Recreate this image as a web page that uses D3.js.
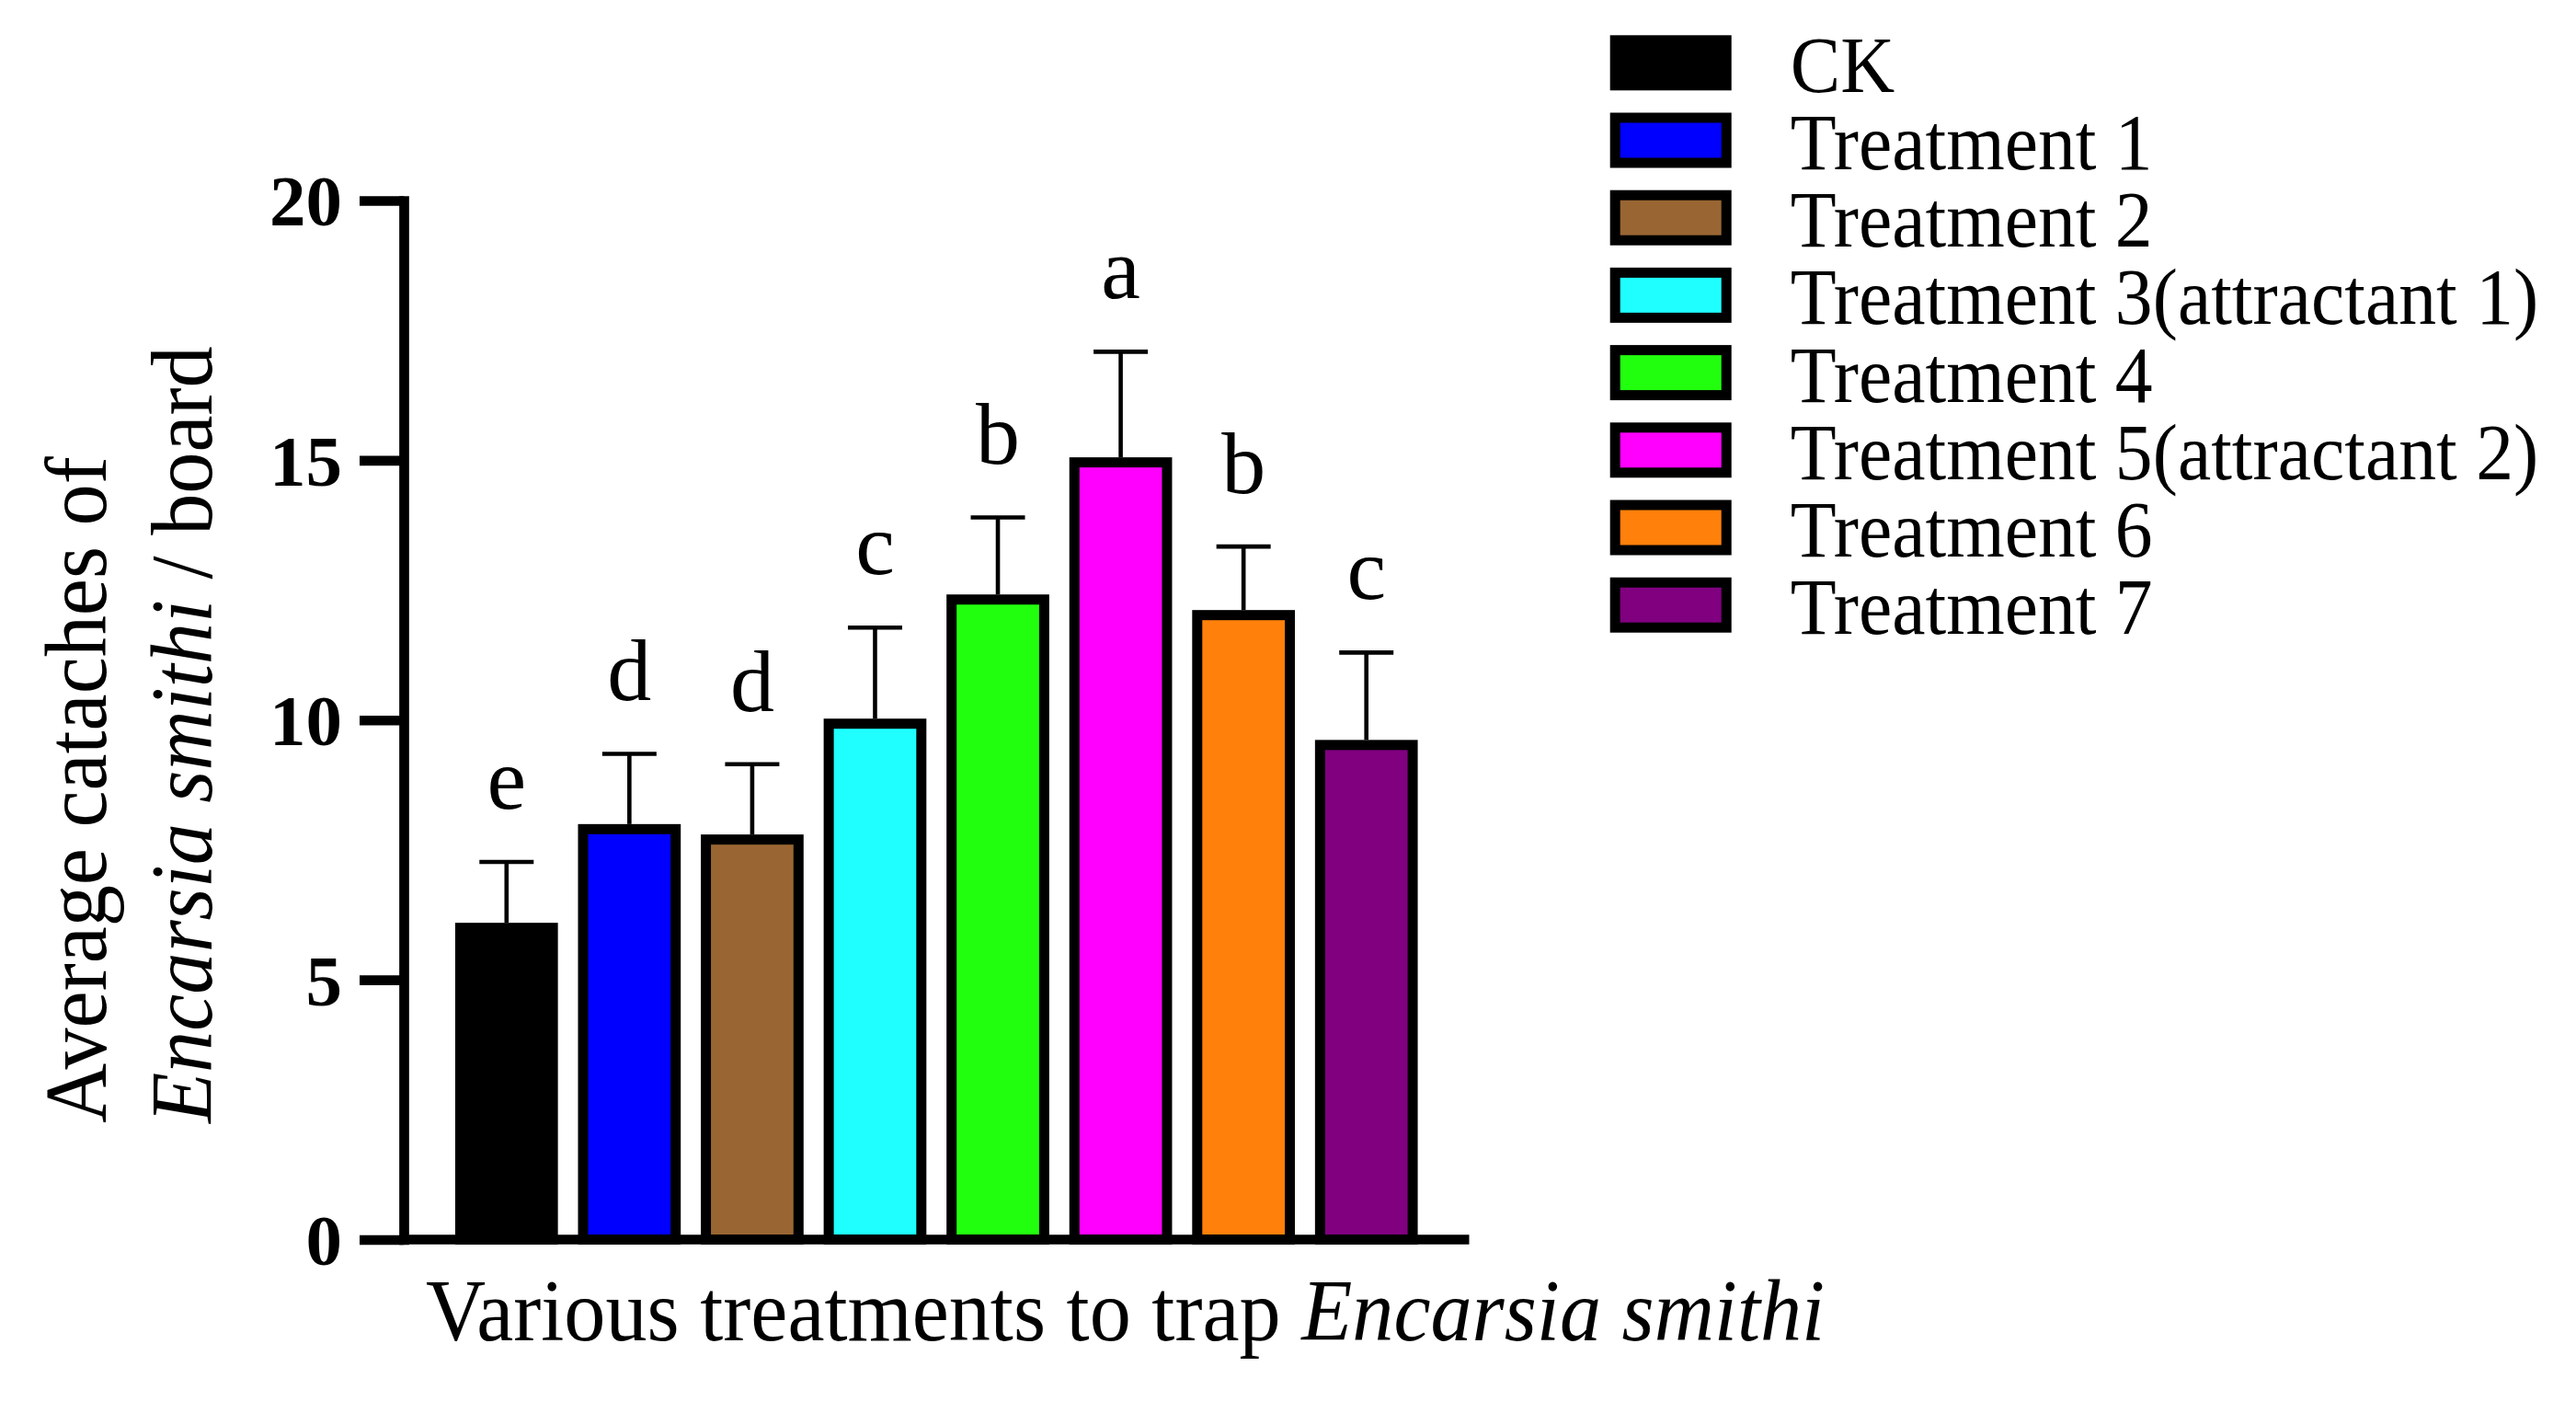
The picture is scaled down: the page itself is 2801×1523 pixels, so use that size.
<!DOCTYPE html>
<html>
<head>
<meta charset="utf-8">
<script src="https://cdn.jsdelivr.net/npm/d3@7"></script>
<style>
  html, body { margin: 0; padding: 0; background: #fff; }
  svg { display: block; }
  text { font-family: "Liberation Serif", "Times New Roman", Times, serif; fill: #000; }
</style>
</head>
<body>
<svg id="chart" width="2801" height="1523"></svg>
<script>
// ---- data ----
const categories = ["CK", "Treatment 1", "Treatment 2", "Treatment 3(attractant 1)", "Treatment 4", "Treatment 5(attractant 2)", "Treatment 6", "Treatment 7"];
const means = [6.0, 7.9, 7.7, 9.93, 12.32, 14.96, 12.02, 9.52];
const errors = [1.27, 1.45, 1.45, 1.85, 1.58, 2.13, 1.32, 1.78];
const letters = ["e", "d", "d", "c", "b", "a", "b", "c"];
const colors = ["#000000", "#0000FF", "#996633", "#1FFFFF", "#22FF0E", "#FF00FF", "#FF800A", "#800080"];
const yTicks = [0, 5, 10, 15, 20];

// ---- layout ----
const svg = d3.select("#chart");
const COND = 0.94; // horizontal condensing of the serif font
const axisW = 10.7;
const barStroke = 11;

const x = d3.scaleBand()
  .domain(categories)
  .range([439, 1597.5])
  .paddingInner(0.246)
  .paddingOuter(0.46);

const y = d3.scaleLinear()
  .domain([0, 20])
  .range([1347.5, 218]);

// ---- bars ----
const data = categories.map((c, i) => ({ c, m: means[i], e: errors[i], l: letters[i], col: colors[i] }));

svg.append("g").selectAll("rect")
  .data(data)
  .join("rect")
  .attr("x", d => x(d.c))
  .attr("width", x.bandwidth())
  .attr("y", d => y(d.m))
  .attr("height", d => y(0) - y(d.m))
  .attr("fill", d => d.col)
  .attr("stroke", "#000")
  .attr("stroke-width", barStroke);

// ---- error bars ----
const capW = 59;
const eg = svg.append("g").attr("stroke", "#000").attr("stroke-width", 4.6);
eg.selectAll("line.v")
  .data(data).join("line").attr("class", "v")
  .attr("x1", d => x(d.c) + x.bandwidth() / 2)
  .attr("x2", d => x(d.c) + x.bandwidth() / 2)
  .attr("y1", d => y(d.m) - barStroke / 2)
  .attr("y2", d => y(d.m + d.e));
eg.selectAll("line.h")
  .data(data).join("line").attr("class", "h")
  .attr("x1", d => x(d.c) + x.bandwidth() / 2 - capW / 2)
  .attr("x2", d => x(d.c) + x.bandwidth() / 2 + capW / 2)
  .attr("y1", d => y(d.m + d.e))
  .attr("y2", d => y(d.m + d.e));

// ---- significance letters ----
svg.append("g").selectAll("text")
  .data(data).join("text")
  .attr("x", d => x(d.c) + x.bandwidth() / 2)
  .attr("y", d => y(d.m + d.e) - 58)
  .attr("text-anchor", "middle")
  .attr("font-size", 96)
  .text(d => d.l);

// ---- axes ----
const yAxis = d3.axisLeft(y)
  .tickValues(yTicks)
  .tickSize(48)
  .tickSizeOuter(0)
  .tickPadding(19)
  .tickFormat(d3.format("d"));

const yg = svg.append("g").attr("transform", "translate(439,0)").call(yAxis);
yg.select(".domain").attr("stroke", "#000").attr("stroke-width", axisW).attr("stroke-linecap", "square");
yg.selectAll(".tick line").attr("stroke", "#000").attr("stroke-width", axisW);
yg.selectAll(".tick text")
  .attr("font-family", "\"Liberation Serif\", \"Times New Roman\", serif")
  .attr("font-size", 79)
  .attr("font-weight", "bold")
  .attr("dy", "0.34em")
  .attr("fill", "#000");

// x axis line
svg.append("line")
  .attr("x1", 439).attr("x2", x.range()[1])
  .attr("y1", y(0)).attr("y2", y(0))
  .attr("stroke", "#000").attr("stroke-width", axisW);

// ---- axis titles ----
const xt = svg.append("g").attr("transform", `translate(463,1457) scale(${COND},1)`)
  .append("text").attr("font-size", 96);
xt.append("tspan").text("Various treatments to trap ");
xt.append("tspan").attr("font-style", "italic").text("Encarsia smithi");

const yt1 = svg.append("g").attr("transform", `translate(115,1221) rotate(-90) scale(${COND},1)`)
  .append("text").attr("font-size", 96).text("Average cataches of");
const yt2 = svg.append("g").attr("transform", `translate(230,1221) rotate(-90) scale(${COND},1)`)
  .append("text").attr("font-size", 96);
yt2.append("tspan").attr("font-style", "italic").text("Encarsia smithi");
yt2.append("tspan").text(" / board");

// ---- legend ----
const legStep = 84.2;
const lg = svg.append("g").selectAll("g")
  .data(data).join("g")
  .attr("transform", (d, i) => `translate(1756.2, ${43.8 + i * legStep})`);
lg.append("rect")
  .attr("width", 121).attr("height", 49)
  .attr("fill", d => d.col)
  .attr("stroke", "#000").attr("stroke-width", barStroke);
lg.append("g")
  .attr("transform", `translate(190.5, 56) scale(0.95,1)`)
  .append("text")
  .attr("font-size", 86)
  .text(d => d.c);
</script>
</body>
</html>
